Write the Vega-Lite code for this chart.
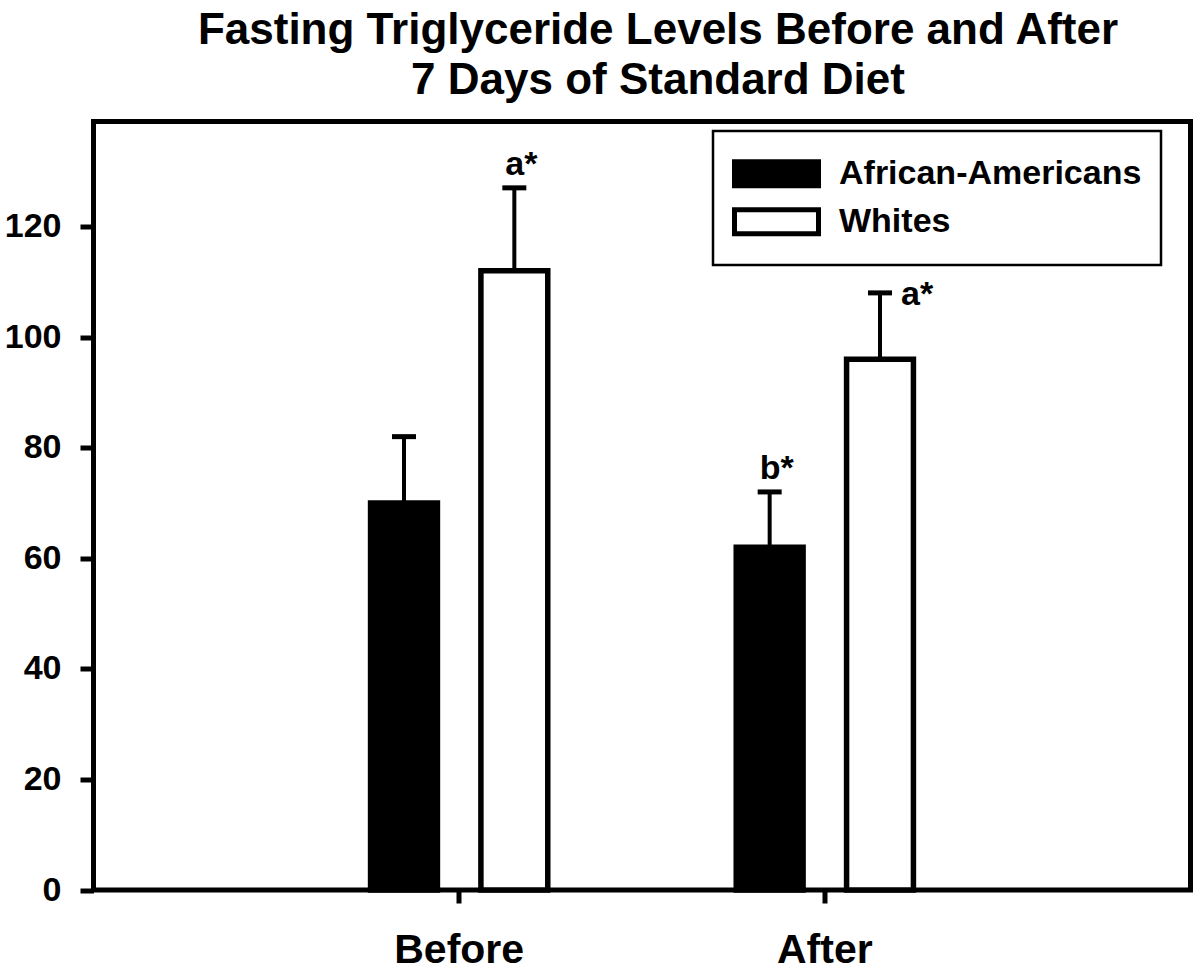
{
  "$schema": "https://vega.github.io/schema/vega-lite/v6.json",
  "width": 1097,
  "height": 768.5,
  "autosize": {"type": "none"},
  "padding": {"left": 93.5, "top": 121.5, "right": 9.5, "bottom": 82},
  "background": "white",
  "title": {
    "text": ["Fasting Triglyceride Levels Before and After", "7 Days of Standard Diet"],
    "font": "Liberation Sans",
    "fontSize": 44,
    "fontWeight": "bold",
    "color": "black",
    "lineHeight": 50,
    "anchor": "middle",
    "dx": 16,
    "offset": 19
  },
  "data": {
    "values": [
      {"cat": "Before", "group": "African-Americans", "value": 70, "upper": 82, "label": ""},
      {"cat": "Before", "group": "Whites", "value": 112, "upper": 127, "label": "a*"},
      {"cat": "After", "group": "African-Americans", "value": 62, "upper": 72, "label": "b*"},
      {"cat": "After", "group": "Whites", "value": 96, "upper": 108, "label": "a*"}
    ]
  },
  "encoding": {
    "x": {
      "field": "cat",
      "type": "nominal",
      "sort": ["Before", "After"],
      "scale": {"paddingInner": 0.5154, "paddingOuter": 0.7577},
      "axis": {
        "title": null,
        "labelAngle": 0,
        "domain": false,
        "ticks": true,
        "tickSize": 13,
        "tickWidth": 5,
        "tickColor": "black",
        "labelFont": "Liberation Sans",
        "labelFontSize": 41,
        "labelFontWeight": "bold",
        "labelColor": "black",
        "labelPadding": 27,
        "grid": false
      }
    },
    "xOffset": {
      "field": "group",
      "type": "nominal",
      "sort": ["African-Americans", "Whites"],
      "scale": {"paddingInner": 0.394, "paddingOuter": 0}
    }
  },
  "layer": [
    {
      "mark": {"type": "rule", "strokeWidth": 4, "color": "black"},
      "encoding": {
        "y": {
          "field": "value",
          "type": "quantitative",
          "scale": {"domain": [0, 139], "nice": false, "zero": true},
          "axis": {"title": null, "values": [0, 20, 40, 60, 80, 100, 120], "grid": false, "domain": false, "tickSize": 13.5, "tickWidth": 5, "tickColor": "black", "labelFont": "Liberation Sans", "labelFontSize": 34, "labelFontWeight": "bold", "labelColor": "black", "labelPadding": 19}
        },
        "y2": {"field": "upper"}
      }
    },
    {
      "mark": {"type": "tick", "size": 24, "thickness": 5, "color": "black", "opacity": 1},
      "encoding": {
        "y": {
          "field": "upper",
          "type": "quantitative",
          "scale": {"domain": [0, 139], "nice": false, "zero": true},
          "axis": {"title": null, "values": [0, 20, 40, 60, 80, 100, 120], "grid": false, "domain": false, "tickSize": 13.5, "tickWidth": 5, "tickColor": "black", "labelFont": "Liberation Sans", "labelFontSize": 34, "labelFontWeight": "bold", "labelColor": "black", "labelPadding": 19}
        }
      }
    },
    {
      "mark": {"type": "bar", "stroke": "black", "strokeWidth": 5.5, "opacity": 1},
      "encoding": {
        "y": {
          "field": "value",
          "type": "quantitative",
          "scale": {"domain": [0, 139], "nice": false, "zero": true},
          "axis": {"title": null, "values": [0, 20, 40, 60, 80, 100, 120], "grid": false, "domain": false, "tickSize": 13.5, "tickWidth": 5, "tickColor": "black", "labelFont": "Liberation Sans", "labelFontSize": 34, "labelFontWeight": "bold", "labelColor": "black", "labelPadding": 19}
        },
        "fill": {
          "field": "group",
          "type": "nominal",
          "scale": {"domain": ["African-Americans", "Whites"], "range": ["#000000", "#ffffff"]},
          "legend": {
            "orient": "none",
            "legendX": 619.5,
            "legendY": 9.5,
            "title": null,
            "padding": 19,
            "clipHeight": 47.5,
            "rowPadding": 0,
            "symbolType": "M-1,-0.2857H1V0.2857H-1Z",
            "symbolSize": 7056,
            "symbolStrokeColor": "black",
            "symbolStrokeWidth": 5,
            "symbolOpacity": 1,
            "labelFont": "Liberation Sans",
            "labelFontSize": 34,
            "labelFontWeight": "bold",
            "labelColor": "black",
            "labelOffset": 18,
            "labelLimit": 600,
            "strokeColor": "black",
            "fillColor": "white",
            "encode": {"legend": {"update": {"strokeWidth": {"value": 2.5}}}}
          }
        }
      }
    },
    {
      "transform": [{"filter": "datum.label != '' && !(datum.cat == 'After' && datum.group == 'Whites')"}],
      "mark": {"type": "text", "font": "Liberation Sans", "fontSize": 34, "fontWeight": "bold", "color": "black", "align": "center", "baseline": "alphabetic", "dx": 7, "dy": -13},
      "encoding": {
        "y": {"field": "upper", "type": "quantitative", "scale": {"domain": [0, 139], "nice": false, "zero": true}, "axis": {"title": null, "values": [0, 20, 40, 60, 80, 100, 120], "grid": false, "domain": false, "tickSize": 13.5, "tickWidth": 5, "tickColor": "black", "labelFont": "Liberation Sans", "labelFontSize": 34, "labelFontWeight": "bold", "labelColor": "black", "labelPadding": 19}},
        "text": {"field": "label"}
      }
    },
    {
      "transform": [{"filter": "datum.cat == 'After' && datum.group == 'Whites'"}],
      "mark": {"type": "text", "font": "Liberation Sans", "fontSize": 34, "fontWeight": "bold", "color": "black", "align": "left", "baseline": "alphabetic", "dx": 21, "dy": 12},
      "encoding": {
        "y": {"field": "upper", "type": "quantitative", "scale": {"domain": [0, 139], "nice": false, "zero": true}, "axis": {"title": null, "values": [0, 20, 40, 60, 80, 100, 120], "grid": false, "domain": false, "tickSize": 13.5, "tickWidth": 5, "tickColor": "black", "labelFont": "Liberation Sans", "labelFontSize": 34, "labelFontWeight": "bold", "labelColor": "black", "labelPadding": 19}},
        "text": {"field": "label"}
      }
    }
  ],
  "config": {
    "view": {"stroke": "black", "strokeWidth": 5},
    "font": "Liberation Sans"
  }
}
